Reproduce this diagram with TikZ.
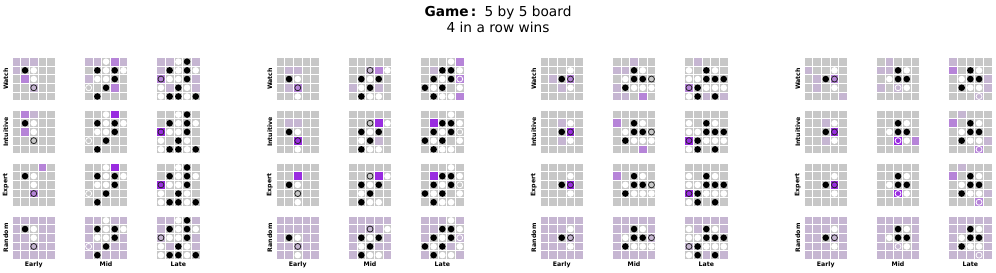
\documentclass[tikz,border=0pt]{standalone}
\usepackage{fontspec}
\setmainfont{DejaVu Sans}
\usepackage{tikz}
\definecolor{cellgray}{RGB}{199,199,199}
\definecolor{lavcell}{RGB}{198,182,210}
\definecolor{midcell}{RGB}{182,132,216}
\definecolor{highcell}{RGB}{153,44,224}
\tikzset{
  cellsq/.style     = {draw=white, line width=0.9pt},
  blackstone/.style = {fill=black},
  whitestone/.style = {fill=white},
  darkring/.style   = {draw=black!85, line width=0.8pt},
  lightring/.style  = {draw=white, line width=0.8pt},
  rowlabel/.style   = {rotate=90, font=\fontsize{6.2}{7}\selectfont\bfseries},
  collabel/.style   = {anchor=base, font=\fontsize{6.2}{7}\selectfont\bfseries},
  titletext/.style  = {anchor=base, font=\fontsize{13.7}{16}\selectfont}
}
\newcommand{\cellw}{8.7}
% one cell colour, one list of row/col pairs
\newcommand{\tint}[2]{\foreach \r/\c in {#2}{
  \filldraw[cellsq,fill=#1] ({(\c-1)*\cellw},{(\r-1)*\cellw}) rectangle ++(\cellw,\cellw);}}
\newcommand{\putstones}[2]{\foreach \r/\c in {#2}{
  \filldraw[cellsq,fill=cellgray] ({(\c-1)*\cellw},{(\r-1)*\cellw}) rectangle ++(\cellw,\cellw);
  \fill[#1] ({(\c-0.5)*\cellw},{(\r-0.5)*\cellw}) circle (3.3pt);}}
\newcommand{\putring}[2]{\foreach \r/\c in {#2}{
  \draw[#1] ({(\c-0.5)*\cellw},{(\r-0.5)*\cellw}) circle (3.0pt);}}
% group, column, row, base colour, content
\newcommand{\gboard}[5]{
  \begin{scope}[shift={({12+264*(#1-1)+72.3*(#2-1)},{57.3+52.9*(#3-1)})}]
    \foreach \r in {1,...,5}{\foreach \c in {1,...,5}{
      \filldraw[cellsq,fill=#4] ({(\c-1)*\cellw},{(\r-1)*\cellw}) rectangle ++(\cellw,\cellw);}}
    #5
  \end{scope}}
% positions: stones and the marked move
\newcommand{\posAe}{\putstones{blackstone}{2/2}\putstones{whitestone}{2/3,3/3}\putring{darkring}{4/3}}
\newcommand{\posAm}{\putstones{blackstone}{2/2,2/4,3/4,4/3,5/2}
  \putstones{whitestone}{1/3,2/3,2/5,3/2,3/3}\putring{lightring}{4/1}}
\newcommand{\posAl}{\putstones{blackstone}{1/4,2/2,2/4,3/4,4/3,5/2,5/3,5/5}
  \putstones{whitestone}{1/3,2/3,2/5,3/2,3/3,4/1,4/4,5/1,5/4}\putring{darkring}{3/1}}
\newcommand{\posBe}{\putstones{blackstone}{3/2}\putstones{whitestone}{3/3,5/3}\putring{darkring}{4/3}}
\newcommand{\posBm}{\putstones{blackstone}{3/2,3/4,4/3,5/2}
  \putstones{whitestone}{2/5,3/3,4/2,5/3,5/4}\putring{darkring}{2/3}}
\newcommand{\posBl}{\putstones{blackstone}{2/3,2/4,3/2,3/4,4/1,4/3,5/2}
  \putstones{whitestone}{1/4,2/5,3/3,4/2,4/5,5/3,5/4}\putring{lightring}{3/5}}
\newcommand{\posCe}{\putstones{blackstone}{3/3}\putstones{whitestone}{2/4,4/4}\putring{darkring}{3/4}}
\newcommand{\posCm}{\putstones{blackstone}{2/3,3/3,3/4,4/2}
  \putstones{whitestone}{2/4,3/2,4/3,4/4,4/5}\putring{darkring}{3/5}}
\newcommand{\posCl}{\putstones{blackstone}{2/3,3/3,3/4,3/5,4/2,5/2,5/4}
  \putstones{whitestone}{2/1,2/4,3/1,3/2,4/3,4/4,4/5,5/1}\putring{darkring}{4/1}}
\newcommand{\posDe}{\putstones{blackstone}{3/3}\putstones{whitestone}{2/4,4/4}\putring{darkring}{3/4}}
\newcommand{\posDm}{\putstones{blackstone}{2/3,3/3,3/4}
  \putstones{whitestone}{2/4,3/2,4/4}\putring{lightring}{4/3}}
\newcommand{\posDl}{\putstones{blackstone}{2/3,3/3,3/4,4/2}
  \putstones{whitestone}{2/4,3/2,4/3,4/4}\putring{lightring}{5/4}}

\begin{document}
\begin{tikzpicture}[x=1pt,y=-1pt]
  \useasboundingbox (0,0) rectangle (996,273);
  \node[titletext] (title) at (498,16.2) {\textbf{Game\,:}\hspace{0.6em}5 by 5 board};
  \node[titletext] (rule) at (498,32.6) {4 in a row wins};
  \foreach \g in {1,...,4}{
    \foreach \lab [count=\i] in {Watch,Intuitive,Expert,Random}
      \node[rowlabel] (row\g\i) at ({12+264*(\g-1)-6.2},{57.3+52.9*(\i-1)+21.75}) {\lab};
    \foreach \lab [count=\j] in {Early,Mid,Late}
      \node[collabel] (col\g\j) at ({12+264*(\g-1)+72.3*(\j-1)+21.75},266.7) {\lab};
  }
  % group 1
  \gboard{1}{1}{1}{cellgray}{\tint{lavcell}{1/1,1/2,1/3,2/1,4/3}\tint{midcell}{3/2}\posAe}
  \gboard{1}{1}{2}{cellgray}{\tint{lavcell}{1/3}\tint{midcell}{1/2,3/2}\posAe}
  \gboard{1}{1}{3}{cellgray}{\tint{midcell}{1/4,4/3}\posAe}
  \gboard{1}{1}{4}{lavcell}{\posAe}
  \gboard{1}{2}{1}{cellgray}{\tint{lavcell}{1/1,1/2,1/5,3/1}\tint{midcell}{1/4,4/4}\posAm}
  \gboard{1}{2}{2}{cellgray}{\tint{highcell}{1/4}\posAm}
  \gboard{1}{2}{3}{cellgray}{\tint{highcell}{1/4}\posAm}
  \gboard{1}{2}{4}{lavcell}{\posAm}
  \gboard{1}{3}{1}{cellgray}{\tint{lavcell}{1/1,1/2,1/5,2/1,3/5,4/2,4/5}\tint{midcell}{3/1}\posAl}
  \gboard{1}{3}{2}{cellgray}{\tint{highcell}{3/1}\posAl}
  \gboard{1}{3}{3}{cellgray}{\tint{highcell}{3/1}\posAl}
  \gboard{1}{3}{4}{lavcell}{\posAl}
  % group 2
  \gboard{2}{1}{1}{cellgray}{\tint{lavcell}{2/2,2/3,4/2}\tint{midcell}{4/3}\posBe}
  \gboard{2}{1}{2}{cellgray}{\tint{lavcell}{2/2,2/3}\tint{highcell}{4/3}\posBe}
  \gboard{2}{1}{3}{cellgray}{\tint{highcell}{2/3}\posBe}
  \gboard{2}{1}{4}{lavcell}{\posBe}
  \gboard{2}{2}{1}{cellgray}{\tint{lavcell}{2/3,4/1,4/4}\tint{midcell}{2/4}\posBm}
  \gboard{2}{2}{2}{cellgray}{\tint{lavcell}{4/4}\tint{highcell}{2/4}\posBm}
  \gboard{2}{2}{3}{cellgray}{\tint{highcell}{2/4}\posBm}
  \gboard{2}{2}{4}{lavcell}{\posBm}
  \gboard{2}{3}{1}{cellgray}{\tint{lavcell}{2/2}\tint{midcell}{1/5,3/5,5/5}\posBl}
  \gboard{2}{3}{2}{cellgray}{\tint{highcell}{2/2}\posBl}
  \gboard{2}{3}{3}{cellgray}{\tint{highcell}{2/2}\posBl}
  \gboard{2}{3}{4}{lavcell}{\posBl}
  % group 3
  \gboard{3}{1}{1}{cellgray}{\tint{lavcell}{3/2,4/3}\tint{midcell}{3/4}\posCe}
  \gboard{3}{1}{2}{cellgray}{\tint{lavcell}{2/3,4/3}\tint{highcell}{3/4}\posCe}
  \gboard{3}{1}{3}{cellgray}{\tint{highcell}{3/4}\posCe}
  \gboard{3}{1}{4}{lavcell}{\posCe}
  \gboard{3}{2}{1}{cellgray}{\tint{lavcell}{1/3,2/1,2/2,4/1,5/1,5/2}\tint{midcell}{5/4}\posCm}
  \gboard{3}{2}{2}{cellgray}{\tint{midcell}{2/1,5/4}\posCm}
  \gboard{3}{2}{3}{cellgray}{\tint{midcell}{2/1}\posCm}
  \gboard{3}{2}{4}{lavcell}{\posCm}
  \gboard{3}{3}{1}{cellgray}{\tint{lavcell}{1/2,5/3,5/5}\tint{midcell}{4/1}\posCl}
  \gboard{3}{3}{2}{cellgray}{\tint{highcell}{4/1}\posCl}
  \gboard{3}{3}{3}{cellgray}{\tint{highcell}{4/1}\posCl}
  \gboard{3}{3}{4}{lavcell}{\posCl}
  % group 4
  \gboard{4}{1}{1}{cellgray}{\tint{lavcell}{2/1,3/2,4/2,5/5}\tint{midcell}{3/4}\posDe}
  \gboard{4}{1}{2}{cellgray}{\tint{lavcell}{2/3,4/3}\tint{highcell}{3/4}\posDe}
  \gboard{4}{1}{3}{cellgray}{\tint{highcell}{3/4}\posDe}
  \gboard{4}{1}{4}{lavcell}{\posDe}
  \gboard{4}{2}{1}{cellgray}{\tint{lavcell}{1/2,2/1,2/2,4/1,4/3}\posDm}
  \gboard{4}{2}{2}{cellgray}{\tint{highcell}{4/3}\tint{midcell}{4/5}\posDm}
  \gboard{4}{2}{3}{cellgray}{\tint{highcell}{4/3}\posDm}
  \gboard{4}{2}{4}{lavcell}{\posDm}
  \gboard{4}{3}{1}{cellgray}{\tint{lavcell}{1/1,3/5,4/5,5/4}\tint{midcell}{2/1}\posDl}
  \gboard{4}{3}{2}{cellgray}{\tint{lavcell}{1/2,4/5}\tint{midcell}{2/1,5/4}\posDl}
  \gboard{4}{3}{3}{cellgray}{\tint{lavcell}{1/2,4/5}\tint{midcell}{2/1,5/4}\posDl}
  \gboard{4}{3}{4}{lavcell}{\posDl}
\end{tikzpicture}
\end{document}
